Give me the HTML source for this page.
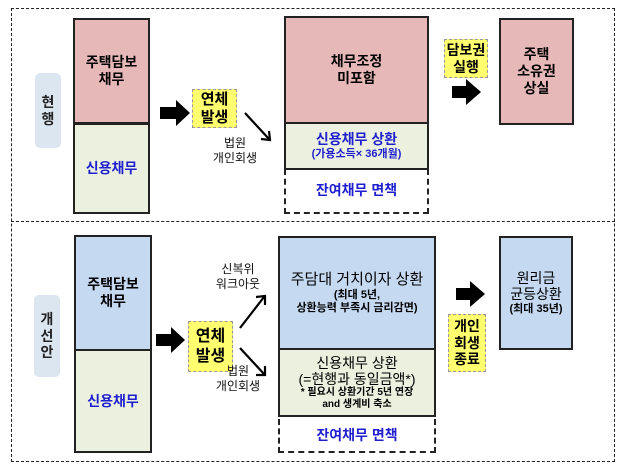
<!DOCTYPE html>
<html><head><meta charset="utf-8"><style>
body{margin:0;width:624px;height:472px;background:#fff;position:relative;overflow:hidden;font-family:"Liberation Sans","Noto Sans CJK KR",sans-serif;font-weight:bold;}
.a{position:absolute;box-sizing:border-box;}
.c{display:flex;flex-direction:column;align-items:center;justify-content:center;text-align:center;line-height:1.2;}
.pk{background:#e6b8b7;border:2px solid #222;}
.gr{background:#ebf1de;border:2px solid #222;}
.bl{background:#c5d9f1;border:2px solid #222;}
.yl{background:#ffff70;border:1.5px dashed #999;font-size:15px;}
.lb{background:#dce6f1;border-radius:5px;font-size:14px;color:#222;}
.blue{color:#1f1fd0;}
.sm{font-size:12px;font-weight:normal;color:#111;line-height:1.25}
</style></head><body>
<div class="a" style="left:11px;top:8px;width:604px;height:454px;border:1px dashed #222"></div>
<div class="a" style="left:11px;top:221px;width:604px;height:0;border-top:1px dashed #222"></div>

<!-- top -->
<div class="a lb c" style="left:35px;top:73px;width:26px;height:75px">현<br>행</div>
<div class="a pk c" style="left:73px;top:18px;width:77px;height:106px;font-size:14px">주택담보<br>채무</div>
<div class="a gr c blue" style="left:73px;top:123px;width:77px;height:91px;font-size:14px">신용채무</div>
<svg class="a" style="left:0;top:0" width="624" height="472">
<polygon points="160,107 176,107 176,100 190,113 176,126 176,119 160,119" fill="#000"/>
<polygon points="452,86 466,86 466,79 481,92 466,105 466,98 452,98" fill="#000"/>
<polygon points="156,334 171,334 171,327 185,340 171,353 171,346 156,346" fill="#000"/>
<polygon points="456,288 470,288 470,281 485,294 470,307 470,300 456,300" fill="#000"/>
<g stroke="#000" stroke-width="2.2" fill="none">
<line x1="245" y1="113" x2="269" y2="139"/><polyline points="261,139 270,140 269,131"/>
<line x1="240" y1="328" x2="264" y2="297"/><polyline points="256,297 265,296 265,305"/>
<line x1="240" y1="348" x2="264" y2="374"/><polyline points="256,375 265,375 265,366"/>
</g>
</svg>
<div class="a yl c" style="left:192px;top:89px;width:45px;height:39px">연체<br>발생</div>
<div class="a c sm" style="left:205px;top:137px;width:60px;height:28px">법원<br>개인회생</div>
<div class="a pk c" style="left:284px;top:16px;width:145px;height:108px;font-size:14px">채무조정<br>미포함</div>
<div class="a gr c blue" style="left:284px;top:122px;width:145px;height:48px;font-size:14px">신용채무 상환<span style="font-size:11px">(가용소득× 36개월)</span></div>
<div class="a c blue" style="left:284px;top:169px;width:145px;height:45px;border:2px dashed #222;border-top:none;font-size:14px">잔여채무 면책</div>
<div class="a yl c" style="left:444px;top:39px;width:44px;height:39px;font-size:14px">담보권<br>실행</div>
<div class="a pk c" style="left:499px;top:18px;width:75px;height:107px;font-size:14px">주택<br>소유권<br>상실</div>

<!-- bottom -->
<div class="a lb c" style="left:34px;top:295px;width:26px;height:82px">개<br>선<br>안</div>
<div class="a bl c" style="left:74px;top:235px;width:78px;height:116px;font-size:14px">주택담보<br>채무</div>
<div class="a gr c blue" style="left:74px;top:349px;width:78px;height:104px;font-size:14px">신용채무</div>
<div class="a yl c" style="left:188px;top:321px;width:45px;height:51px;font-size:16px">연체<br>발생</div>
<div class="a c sm" style="left:208px;top:262px;width:60px;height:30px">신복위<br>워크아웃</div>
<div class="a c sm" style="left:208px;top:364px;width:60px;height:30px">법원<br>개인회생</div>
<div class="a bl c" style="left:278px;top:236px;width:158px;height:114px;font-size:15px;font-weight:normal">주담대 거치이자 상환<span style="font-size:11px;font-weight:bold">(최대 5년,<br>상환능력 부족시 금리감면)</span></div>
<div class="a gr c" style="left:278px;top:348px;width:158px;height:69px;font-size:14px;font-weight:normal;line-height:1.15">신용채무 상환<span>(=현행과 동일금액*)</span><span style="font-size:10px;font-weight:bold">* 필요시 상환기간 5년 연장<br>and 생계비 축소</span></div>
<div class="a c blue" style="left:278px;top:419px;width:158px;height:34px;border:2px dashed #222;border-top:none;font-size:14px">잔여채무 면책</div>
<div class="a yl c" style="left:448px;top:314px;width:38px;height:58px;font-size:14px">개인<br>회생<br>종료</div>
<div class="a bl c" style="left:499px;top:236px;width:74px;height:114px;font-size:14px;font-weight:normal">원리금<br>균등상환<span style="font-size:11px;font-weight:bold">(최대 35년)</span></div>
</body></html>
